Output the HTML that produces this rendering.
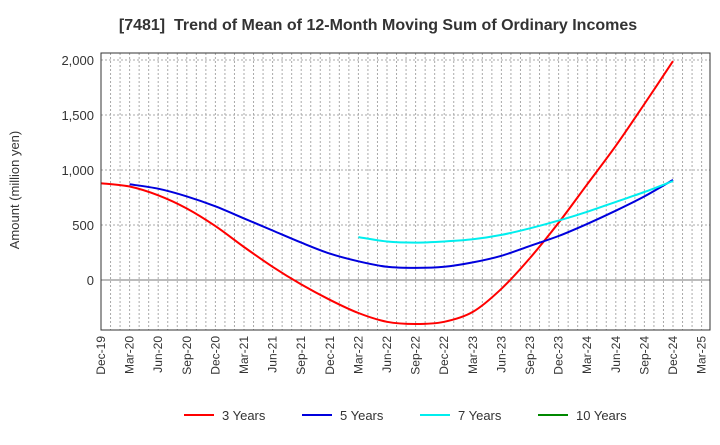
<!DOCTYPE html>
<html><head><meta charset="utf-8"><style>
body{margin:0;background:#fff;font-family:"Liberation Sans",sans-serif;}
</style></head><body>
<svg id="c" width="720" height="440" xmlns="http://www.w3.org/2000/svg" font-family="Liberation Sans, sans-serif">
<text x="378" y="30" text-anchor="middle" font-size="16" font-weight="bold" fill="#333" xml:space="preserve">[7481]  Trend of Mean of 12-Month Moving Sum of Ordinary Incomes</text>
<text transform="translate(19,190) rotate(-90)" text-anchor="middle" font-size="13" fill="#333">Amount (million yen)</text>
<g id="grid"></g><g id="series"></g><g id="axes"></g><g id="legend"></g>
</svg>
<script>
const xLabels=["Dec-19","Mar-20","Jun-20","Sep-20","Dec-20","Mar-21","Jun-21","Sep-21","Dec-21","Mar-22","Jun-22","Sep-22","Dec-22","Mar-23","Jun-23","Sep-23","Dec-23","Mar-24","Jun-24","Sep-24","Dec-24","Mar-25"];
const yTicks=[0,500,1000,1500,2000];
const yTickLabels=["0","500","1,000","1,500","2,000"];
const s3=[880,850,770,650,490,300,120,-40,-180,-300,-380,-400,-380,-290,-80,200,520,870,1220,1600,1990];
const s5=[null,870,830,760,670,560,450,340,240,170,120,110,120,160,220,310,400,510,630,760,910];
const s7=[null,null,null,null,null,null,null,null,null,390,350,340,350,370,410,470,540,620,710,800,900];
const s10=[];
const seriesNames=["3 Years","5 Years","7 Years","10 Years"];
const colors=["#ff0000","#0000dd","#00eeee","#008800"];
const L=101,R=710,T=53,B=330,Q=28.6;
const x=i=>L+i*Q;
const y=v=>280-v*55/500;
const NS="http://www.w3.org/2000/svg";
function mk(t,a,p){const e=document.createElementNS(NS,t);for(const k in a)e.setAttribute(k,a[k]);p.appendChild(e);return e;}
const g=document.getElementById('grid');
for(let m=1;L+m*Q/3<R;m++){const xx=L+m*Q/3;const l=mk('line',{x1:xx,x2:xx,y1:T,y2:B,stroke:'#aaa','stroke-dasharray':'2,2','stroke-width':1},g);

}
yTicks.forEach((v,i)=>{const l=mk('line',{x1:L,x2:R,y1:y(v),y2:y(v),stroke:v===0?'#777':'#aaa','stroke-dasharray':v===0?'':'2,2'},g);


const t=mk('text',{x:L-7,y:y(v)+5,'text-anchor':'end','font-size':13,fill:'#333'},g);t.textContent=yTickLabels[i];

});
const ax=document.getElementById('axes');
const fr=mk('rect',{x:L,y:T,width:R-L,height:B-T,fill:'none',stroke:'#333'},ax);


xLabels.forEach((s,i)=>{const t=mk('text',{transform:`translate(${x(i)+4},${B+6}) rotate(-90)`,'text-anchor':'end','font-size':12,fill:'#333'},ax);t.textContent=s;

});
function path(arr){const pts=[];arr.forEach((v,i)=>{if(v!=null)pts.push([x(i),y(v)]);});if(pts.length<2)return '';
let d=`M${pts[0][0]},${pts[0][1]}`;for(let i=0;i<pts.length-1;i++){const p0=pts[Math.max(0,i-1)],p1=pts[i],p2=pts[i+1],p3=pts[Math.min(pts.length-1,i+2)];
d+=` C${p1[0]+(p2[0]-p0[0])/6},${p1[1]+(p2[1]-p0[1])/6} ${p2[0]-(p3[0]-p1[0])/6},${p2[1]-(p3[1]-p1[1])/6} ${p2[0]},${p2[1]}`;}return d;}
const sg=document.getElementById('series');
[s3,s5,s7,s10].forEach((arr,k)=>{const d=path(arr);if(!d)return;const p=mk('path',{d:d,fill:'none',stroke:colors[k],'stroke-width':2},sg);

});
const lg=document.getElementById('legend');
const lx=[184,302,420,538];
seriesNames.forEach((n,k)=>{const e=mk('g',{},lg);


mk('line',{x1:lx[k],x2:lx[k]+30,y1:415,y2:415,stroke:colors[k],'stroke-width':2},e);
const t=mk('text',{x:lx[k]+38,y:420,'font-size':13,fill:'#333'},e);t.textContent=n;});
</script>
</body></html>
